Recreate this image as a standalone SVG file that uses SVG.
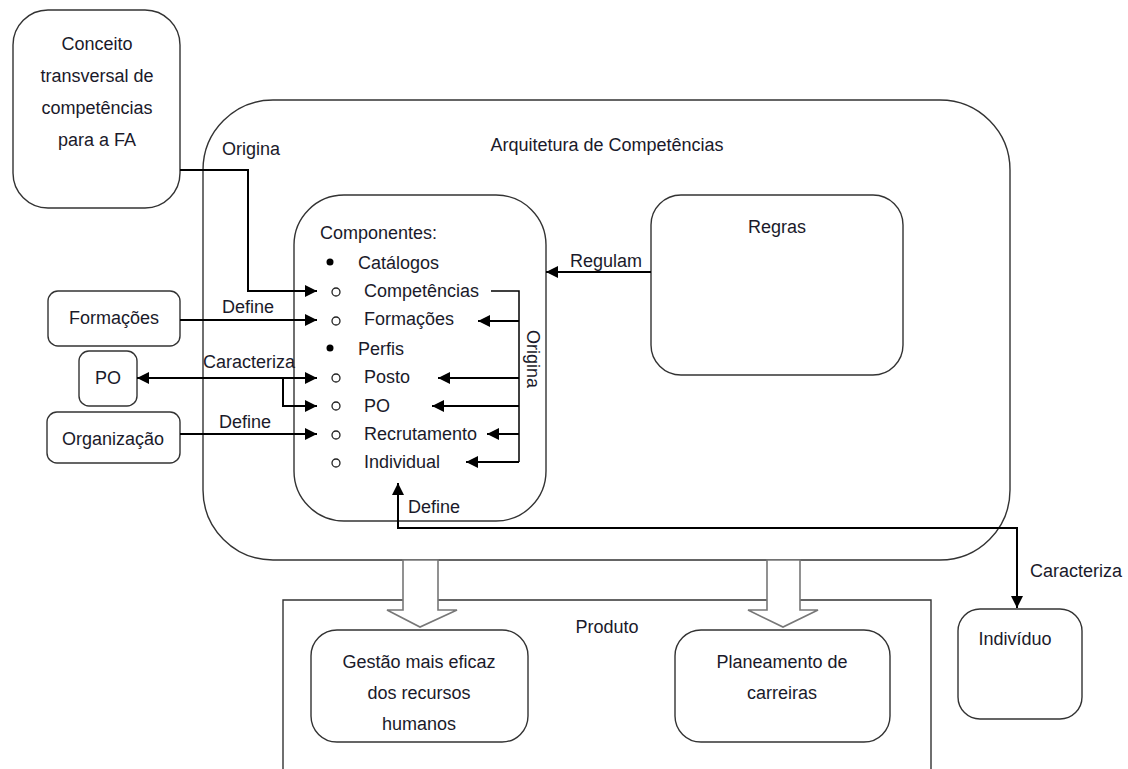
<svg xmlns="http://www.w3.org/2000/svg" width="1128" height="769" viewBox="0 0 1128 769">
<style>
text{font-family:"Liberation Sans",Arial,sans-serif;font-size:18px;fill:#1a1a2a}
.box{fill:#fff;stroke:#333;stroke-width:1.4}
.c{text-anchor:middle}
.con{fill:none;stroke:#000;stroke-width:2}
.thin{fill:none;stroke:#000;stroke-width:1.5}
.blk{fill:#fff;stroke:#777;stroke-width:1.6}
</style>
<defs>
<marker id="ah" markerUnits="userSpaceOnUse" markerWidth="13" markerHeight="12" refX="12" refY="6" orient="auto-start-reverse" viewBox="0 0 13 12">
<path d="M0,0 L12,6 L0,12 z" fill="#000"/>
</marker>
</defs>
<rect width="1128" height="769" fill="#fff"/>

<g id="arquitetura">
<rect class="box" x="203" y="100" width="807" height="460" rx="70" ry="70"/>
<text class="c" x="607" y="151">Arquitetura de Competências</text>
</g>

<g id="produto">
<path class="box" d="M283,771 V600 H931 V771" fill="#fff"/>
<text class="c" x="607" y="633">Produto</text>
</g>

<g id="conceito">
<rect class="box" x="13" y="10" width="167" height="198" rx="35" ry="35"/>
<text class="c" x="97" y="50">Conceito</text>
<text class="c" x="97" y="82">transversal de</text>
<text class="c" x="97" y="114">competências</text>
<text class="c" x="97" y="146">para a FA</text>
</g>

<g id="componentes">
<rect class="box" x="294" y="195" width="252" height="326" rx="50" ry="50"/>
<text x="320" y="239">Componentes:</text>
<circle cx="330" cy="262" r="3.5" fill="#000"/>
<text x="358" y="269">Catálogos</text>
<circle cx="336" cy="292" r="4" fill="none" stroke="#222" stroke-width="1.3"/>
<text x="364" y="297">Competências</text>
<circle cx="336" cy="321" r="4" fill="none" stroke="#222" stroke-width="1.3"/>
<text x="364" y="325">Formações</text>
<circle cx="330" cy="348" r="3.5" fill="#000"/>
<text x="358" y="355">Perfis</text>
<circle cx="336" cy="378" r="4" fill="none" stroke="#222" stroke-width="1.3"/>
<text x="364" y="383">Posto</text>
<circle cx="336" cy="406" r="4" fill="none" stroke="#222" stroke-width="1.3"/>
<text x="364" y="412">PO</text>
<circle cx="336" cy="435" r="4" fill="none" stroke="#222" stroke-width="1.3"/>
<text x="364" y="440">Recrutamento</text>
<circle cx="336" cy="463" r="4" fill="none" stroke="#222" stroke-width="1.3"/>
<text x="364" y="468">Individual</text>
</g>

<g id="regras">
<rect class="box" x="651" y="195" width="252" height="180" rx="30" ry="30"/>
<text class="c" x="777" y="233">Regras</text>
</g>

<g id="formacoes">
<rect class="box" x="48" y="291" width="132" height="55" rx="10" ry="10"/>
<text class="c" x="114" y="324">Formações</text>
</g>

<g id="po">
<rect class="box" x="79" y="351" width="58" height="55" rx="10" ry="10"/>
<text class="c" x="108" y="384">PO</text>
</g>

<g id="organizacao">
<rect class="box" x="47" y="412" width="133" height="51" rx="10" ry="10"/>
<text class="c" x="113" y="445">Organização</text>
</g>

<g id="individuo">
<rect class="box" x="958" y="609" width="124" height="110" rx="22" ry="22"/>
<text class="c" x="1015" y="645">Indivíduo</text>
</g>

<g id="gestao">
<rect class="box" x="311" y="630" width="217" height="112" rx="26" ry="26"/>
<text class="c" x="419" y="668">Gestão mais eficaz</text>
<text class="c" x="419" y="699">dos recursos</text>
<text class="c" x="419" y="730">humanos</text>
</g>

<g id="planeamento">
<rect class="box" x="675" y="630" width="215" height="112" rx="26" ry="26"/>
<text class="c" x="782" y="668">Planeamento de</text>
<text class="c" x="782" y="699">carreiras</text>
</g>

<g id="connectors">
<path class="con" d="M180,170 H248 V291 H317" marker-end="url(#ah)"/>
<text x="222" y="155">Origina</text>
<path class="con" d="M180,320 H317" marker-end="url(#ah)"/>
<text x="222" y="313">Define</text>
<path class="con" d="M137,378 H317" marker-start="url(#ah)" marker-end="url(#ah)"/>
<path class="con" d="M283,378 V406 H317" marker-end="url(#ah)"/>
<text x="203" y="368">Caracteriza</text>
<path class="con" d="M180,434 H317" marker-end="url(#ah)"/>
<text x="219" y="428">Define</text>
<path class="con" d="M651,272 H546" marker-end="url(#ah)"/>
<text x="570" y="267">Regulam</text>
<path class="thin" d="M491,291 H519 V462"/>
<path class="con" d="M519,321 H478" marker-end="url(#ah)"/>
<path class="con" d="M519,378 H438" marker-end="url(#ah)"/>
<path class="con" d="M519,406 H432" marker-end="url(#ah)"/>
<path class="con" d="M519,434 H487" marker-end="url(#ah)"/>
<path class="con" d="M519,462 H466" marker-end="url(#ah)"/>
<text transform="translate(527,330) rotate(90)">Origina</text>
<path class="con" d="M398,483 V528 H1017 V608" marker-start="url(#ah)" marker-end="url(#ah)"/>
<text x="408" y="513">Define</text>
<text x="1030" y="577">Caracteriza</text>
<polygon class="blk" points="403,560 438,560 438,610 457,610 420,627 387,610 403,610"/>
<polygon class="blk" points="767,560 800,560 800,610 818,610 783,627 748,610 767,610"/>
</g>
</svg>
